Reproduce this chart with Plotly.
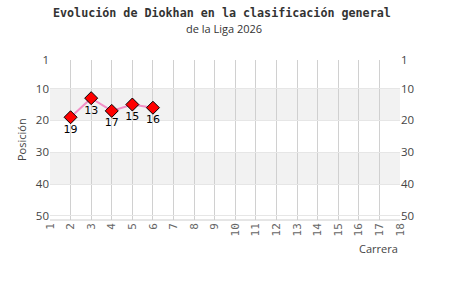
import plotly.graph_objects as go

races = [2, 3, 4, 5, 6]
positions = [19, 13, 17, 15, 16]
x_ticks = list(range(1, 19))
y_ticks = [1, 10, 20, 30, 40, 50]
bands = [(10, 20), (30, 40)]

title = "Evolución de Diokhan en la clasificación general"
subtitle = "de la Liga 2026"

fig = go.Figure()

fig.add_trace(go.Scatter(
    x=races, y=positions, mode="lines+markers+text",
    text=[str(p) for p in positions], textposition="bottom center",
    textfont=dict(family="DejaVu Sans", size=11, color="#000000"),
    line=dict(color="#f38fc6", width=2),
    marker=dict(symbol="diamond", size=10, color="#ff0000",
                line=dict(color="#000000", width=1)),
    showlegend=False, cliponaxis=False,
))
# invisible trace for the mirrored right axis
fig.add_trace(go.Scatter(x=[races[0]], y=[positions[0]], yaxis="y2",
                         mode="markers", marker=dict(opacity=0),
                         showlegend=False, hoverinfo="skip"))

for lo, hi in bands:
    fig.add_shape(type="rect", xref="paper", yref="y", x0=0, x1=1, y0=lo, y1=hi,
                  fillcolor="#f2f2f2", line=dict(width=0), layer="below")

fig.add_shape(type="line", xref="paper", yref="paper", x0=0, x1=1, y0=0, y1=0,
              line=dict(color="#cccccc", width=1))

yr = [51.3, 1]
tick_font = dict(family="Open Sans", size=11.5, color="#444444")
fig.update_layout(
    width=450, height=300,
    margin=dict(l=50, r=50, t=60, b=80),
    paper_bgcolor="white", plot_bgcolor="rgba(0,0,0,0)",
    xaxis=dict(range=[1, 18], tickvals=x_ticks, tickangle=-90,
               showgrid=True, gridcolor="#d0d0d0", gridwidth=1,
               zeroline=False, showline=False, ticks="",
               tickfont=dict(family="DejaVu Sans Mono", size=11, color="#666666")),
    yaxis=dict(range=yr, tickvals=y_ticks, showgrid=True, gridcolor="#e6e6e6",
               zeroline=False, showline=False, ticks="",
               tickfont=tick_font),
    yaxis2=dict(range=yr, tickvals=y_ticks, overlaying="y", side="right",
                showgrid=False, zeroline=False, showline=False, ticks="",
                tickfont=tick_font),
    annotations=[
        dict(text="<b>" + title + "</b>", xref="paper", yref="paper",
             x=0.5, y=1, xshift=-3, yshift=47, showarrow=False, xanchor="center", yanchor="middle",
             font=dict(family="DejaVu Sans Mono", size=11.7, color="#333333")),
        dict(text=subtitle, xref="paper", yref="paper",
             x=0.5, y=1, xshift=-1, yshift=32, showarrow=False, xanchor="center", yanchor="middle",
             font=dict(family="Open Sans", size=11, color="#333333")),
        dict(text="Posición", xref="paper", yref="paper", x=0, xshift=-29, y=0.5,
             textangle=-90, showarrow=False, xanchor="center", yanchor="middle",
             font=dict(family="Open Sans", size=11, color="#444444")),
        dict(text="Carrera", xref="paper", yref="paper", x=1, y=0, yshift=-28,
             showarrow=False, xanchor="right", yanchor="middle",
             font=dict(family="Open Sans", size=11, color="#444444")),
    ],
)

fig.write_html("out.html")
